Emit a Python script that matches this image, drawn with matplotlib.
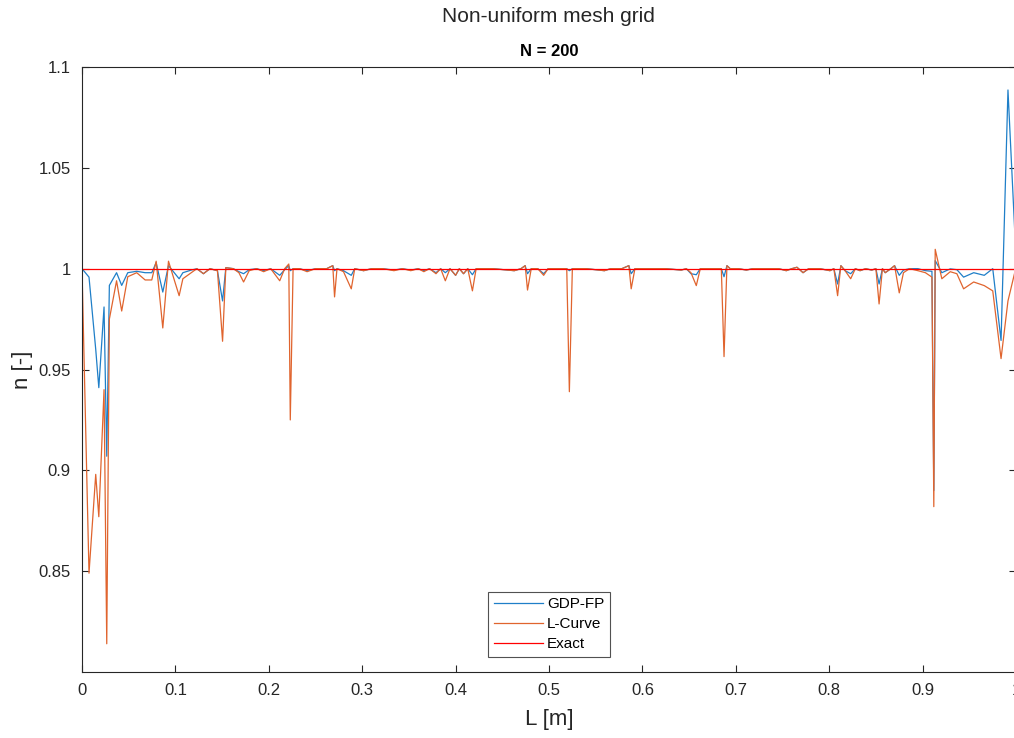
import numpy as np
import matplotlib.pyplot as plt

plt.rcParams['font.family'] = ['Liberation Sans', 'DejaVu Sans']

# mesh points
L = [0.000, 0.0075, 0.0147, 0.0180, 0.0236, 0.0265, 0.0293, 0.037, 0.0425, 0.049,
     0.0586, 0.0676, 0.0747, 0.0794, 0.0865, 0.0926, 0.104, 0.108, 0.117, 0.123,
     0.130, 0.137, 0.145, 0.1505, 0.154, 0.162, 0.168, 0.173, 0.179, 0.187,
     0.1945, 0.202, 0.2117, 0.217, 0.2214, 0.223, 0.226, 0.233, 0.241, 0.250,
     0.262, 0.2685, 0.2704, 0.273, 0.280, 0.2883, 0.292, 0.3015, 0.310, 0.322,
     0.334, 0.343, 0.352, 0.360, 0.366, 0.372, 0.379, 0.384, 0.389, 0.394,
     0.400, 0.404, 0.4085, 0.413, 0.418, 0.422, 0.430, 0.440, 0.452, 0.4628,
     0.470, 0.4745, 0.477, 0.481, 0.488, 0.4943, 0.499, 0.510, 0.519, 0.5218,
     0.525, 0.540, 0.5593, 0.566, 0.578, 0.5855, 0.588, 0.592, 0.610, 0.625,
     0.6416, 0.647, 0.652, 0.6577, 0.662, 0.675, 0.6845, 0.6874, 0.6905, 0.694,
     0.703, 0.7113, 0.718, 0.735, 0.746, 0.754, 0.760, 0.7655, 0.772, 0.778,
     0.790, 0.8008, 0.805, 0.809, 0.8125, 0.817, 0.823, 0.828, 0.833, 0.839,
     0.8455, 0.850, 0.8534, 0.857, 0.860, 0.866, 0.870, 0.875, 0.8795, 0.886,
     0.895, 0.903, 0.910, 0.912, 0.9135, 0.9206, 0.9296, 0.9367, 0.9439, 0.9547,
     0.966, 0.9751, 0.984, 0.9914, 1.000]

gdp_fp = [1.000, 0.9958, 0.960, 0.941, 0.981, 0.907, 0.9917, 0.998, 0.9917, 0.998,
          0.9987, 0.998, 0.998, 1.003, 0.9884, 1.0015, 0.995, 0.998, 0.9993, 1.000,
          0.9975, 1.000, 0.999, 0.984, 1.0005, 1.000, 0.9985, 0.9975, 0.9995, 1.000,
          0.999, 1.000, 0.9967, 0.9995, 1.0015, 0.999, 1.000, 1.000, 0.999, 1.000,
          1.000, 1.0015, 0.999, 1.000, 0.999, 0.9967, 1.000, 0.999, 1.000, 1.000,
          0.9993, 1.000, 0.9993, 1.000, 0.999, 1.000, 0.998, 1.000, 0.998, 1.000,
          0.9967, 1.000, 0.9975, 1.000, 0.997, 1.000, 1.000, 1.000, 0.9995, 0.999,
          1.000, 1.0015, 0.9975, 1.000, 1.000, 0.9975, 1.000, 1.000, 1.000, 0.999,
          1.000, 1.000, 0.999, 1.000, 1.000, 1.0015, 0.9975, 1.000, 1.000, 1.000,
          0.9993, 1.000, 0.9975, 0.997, 1.000, 1.000, 1.000, 0.996, 1.0015, 1.000,
          1.000, 0.9993, 1.000, 1.000, 1.000, 0.999, 1.000, 1.0007, 0.998, 1.000,
          1.000, 0.999, 1.000, 0.9924, 1.0015, 0.999, 0.9975, 1.000, 0.999, 1.000,
          0.9993, 1.000, 0.9924, 1.000, 0.998, 1.000, 1.0015, 0.9967, 0.9993, 1.000,
          1.000, 0.999, 0.9987, 0.890, 1.004, 0.998, 0.9999, 0.9995, 0.9958, 0.998,
          0.9967, 1.000, 0.9644, 1.0886, 1.0056]

l_curve = [1.000, 0.849, 0.898, 0.877, 0.940, 0.814, 0.975, 0.994, 0.979, 0.996,
           0.998, 0.9944, 0.9944, 1.0037, 0.9706, 1.0037, 0.9866, 0.995, 0.998, 1.000,
           0.9975, 1.000, 0.999, 0.964, 1.0005, 1.000, 0.998, 0.9934, 0.999, 1.000,
           0.9985, 1.000, 0.994, 1.000, 1.0023, 0.925, 1.000, 1.000, 0.9985, 1.000,
           1.000, 1.0015, 0.986, 1.000, 0.9985, 0.990, 1.000, 0.999, 1.000, 1.000,
           0.999, 1.000, 0.999, 1.000, 0.9985, 1.000, 0.9975, 1.000, 0.994, 1.000,
           0.9967, 1.000, 0.9975, 1.000, 0.989, 1.000, 1.000, 1.000, 0.9995, 0.999,
           1.000, 1.0015, 0.9894, 1.000, 1.000, 0.9967, 1.000, 1.000, 1.000, 0.939,
           1.000, 1.000, 0.999, 1.000, 1.000, 1.0015, 0.990, 1.000, 1.000, 1.000,
           0.9993, 1.000, 0.998, 0.9916, 1.000, 1.000, 1.000, 0.9564, 1.0015, 1.000,
           1.000, 0.9993, 1.000, 1.000, 1.000, 0.999, 1.000, 1.0007, 0.998, 1.000,
           1.000, 0.999, 1.000, 0.9866, 1.0015, 0.999, 0.995, 1.000, 0.999, 1.000,
           0.9993, 1.000, 0.9825, 1.000, 0.998, 1.000, 1.0015, 0.988, 0.998, 1.000,
           0.999, 0.998, 0.9958, 0.882, 1.0096, 0.995, 0.9985, 0.9975, 0.990, 0.9934,
           0.9916, 0.989, 0.9554, 0.984, 1.0007]

exact_L = [0.0, 1.0]
exact_n = [1.0, 1.0]

fig = plt.figure(figsize=(10.14, 7.38), dpi=100)
ax = fig.add_axes([82 / 1014, 66 / 738, 934 / 1014, 605 / 738])

ax.plot(L, gdp_fp, color='#1f7fc8', lw=0.9, label='GDP-FP')
ax.plot(L, l_curve, color='#e0642e', lw=0.9, label='L-Curve')
ax.plot(exact_L, exact_n, color='#FF0000', lw=0.9, label='Exact')

ax.set_xlim(0, 1)
ax.set_ylim(0.8, 1.1)
ax.set_xticks(np.arange(0, 1.01, 0.1))
ax.set_xticklabels(['0', '0.1', '0.2', '0.3', '0.4', '0.5', '0.6', '0.7', '0.8', '0.9', '1'])
ax.set_yticks([0.85, 0.9, 0.95, 1.0, 1.05, 1.1])
ax.set_yticklabels(['0.85', '0.9', '0.95', '1', '1.05', '1.1'])
ax.tick_params(direction='in', top=True, right=True, length=5, width=0.8,
               labelsize=12, colors='#262626', pad=8)
for s in ax.spines.values():
    s.set_color('#262626')
    s.set_linewidth(0.8)

ax.set_xlabel('L [m]', fontsize=16, color='#262626', labelpad=8)
ax.set_ylabel('n [-]', fontsize=16, color='#262626', labelpad=4)
ax.set_title('N = 200', fontsize=12, fontweight='bold', pad=8)
fig.text(548 / 1014, 1 - 17 / 738, 'Non-uniform mesh grid', fontsize=15,
         color='#262626', ha='center', va='center')

leg = ax.legend(loc='lower center', fontsize=11, frameon=True, fancybox=False,
                borderaxespad=1.0, handlelength=3.2, labelspacing=0.4,
                borderpad=0.35, handletextpad=0.3)
leg.get_frame().set_edgecolor('#262626')
leg.get_frame().set_linewidth(0.8)

fig.savefig('out.png', dpi=100)
